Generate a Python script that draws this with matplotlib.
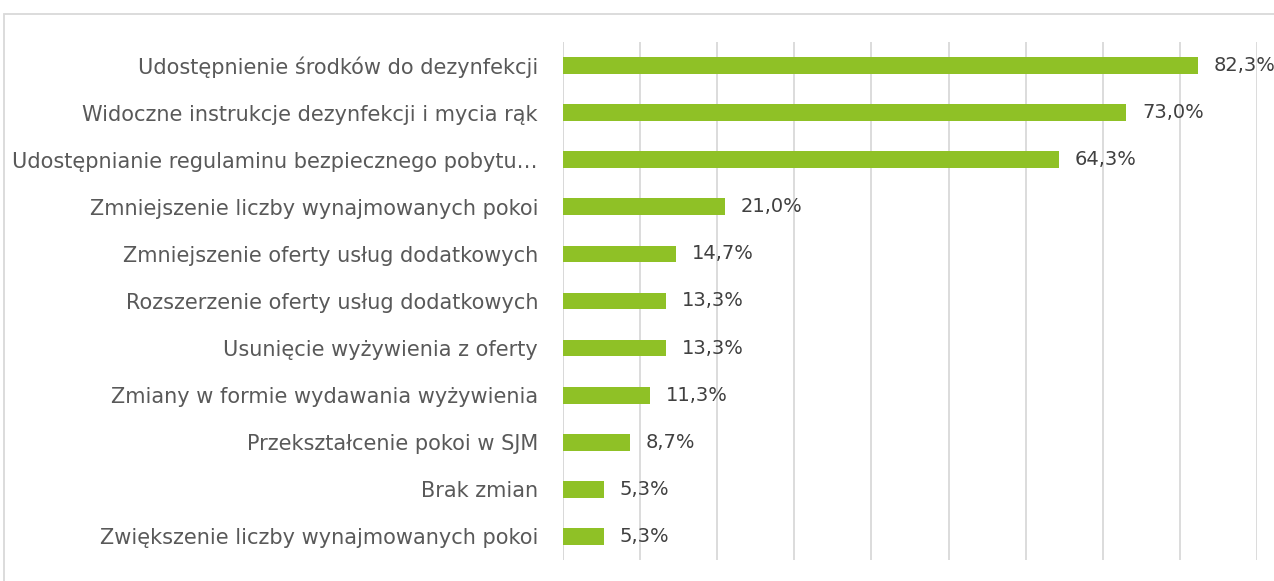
import matplotlib
matplotlib.use("Agg")
import matplotlib.pyplot as plt
from matplotlib.patches import Rectangle

categories = [
    "Udostępnienie środków do dezynfekcji",
    "Widoczne instrukcje dezynfekcji i mycia rąk",
    "Udostępnianie regulaminu bezpiecznego pobytu…",
    "Zmniejszenie liczby wynajmowanych pokoi",
    "Zmniejszenie oferty usług dodatkowych",
    "Rozszerzenie oferty usług dodatkowych",
    "Usunięcie wyżywienia z oferty",
    "Zmiany w formie wydawania wyżywienia",
    "Przekształcenie pokoi w SJM",
    "Brak zmian",
    "Zwiększenie liczby wynajmowanych pokoi",
]
values = [82.3, 73.0, 64.3, 21.0, 14.7, 13.3, 13.3, 11.3, 8.7, 5.3, 5.3]
value_labels = ["82,3%", "73,0%", "64,3%", "21,0%", "14,7%", "13,3%",
                "13,3%", "11,3%", "8,7%", "5,3%", "5,3%"]

plt.rcParams['font.family'] = ['DejaVu Sans']
W, H = 1274, 581
fig = plt.figure(figsize=(W / 100, H / 100), dpi=100)
fig.patch.set_facecolor("white")

# outer frame
fig.patches.append(Rectangle((3.5 / W, -0.5), 2.0, 1.5 - 13.5 / H,
                             transform=fig.transFigure, fill=False,
                             edgecolor="#d9d9d9", linewidth=1.3))

ax = fig.add_axes([563 / W, 1 - 560 / H, (1257 - 563) / W, (560 - 42) / H])
n = len(categories)
ypos = list(range(n))
ax.barh(ypos, values, height=0.355, color="#8fc126", zorder=3)
ax.set_ylim(n - 0.5, -0.5)
ax.set_xlim(0, 90)
ax.set_xticks(range(0, 91, 10))
ax.xaxis.grid(True, color="#d9d9d9", linewidth=1.3, zorder=0)
ax.tick_params(axis="x", bottom=False, labelbottom=False)
ax.tick_params(axis="y", left=False, length=0, pad=18)
ax.set_yticks(ypos)
ax.set_yticklabels(categories, fontsize=15, color="#595959")
for s in ax.spines.values():
    s.set_visible(False)
ax.axvline(0, color="#d9d9d9", linewidth=1.3, zorder=1)

for y, v, lab in zip(ypos, values, value_labels):
    ax.annotate(lab, (v, y), xytext=(16 * 0.72, 0), textcoords="offset points",
                va="center", ha="left", fontsize=14, color="#404040")

fig.savefig("out.png", dpi=100)
